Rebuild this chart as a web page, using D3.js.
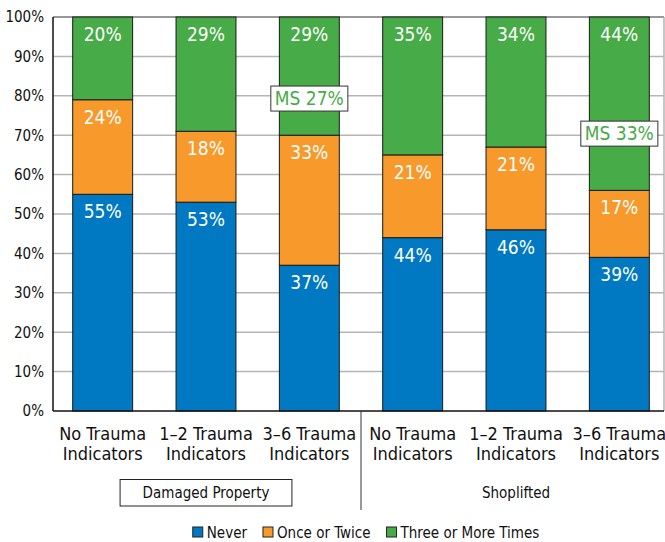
<!DOCTYPE html>
<html>
<head>
<meta charset="utf-8">
<script src="https://cdn.jsdelivr.net/npm/d3@7"></script>
<style>
    body { margin: 0; background: #fff; }
    svg { display: block; font-family: "DejaVu Sans", sans-serif; font-stretch: condensed; }
</style>
</head>
<body>
<div id="bar"></div>
<script>
var categories = ["No Trauma|Indicators", "1\u20132 Trauma|Indicators", "3\u20136 Trauma|Indicators",
                  "No Trauma|Indicators", "1\u20132 Trauma|Indicators", "3\u20136 Trauma|Indicators"]
var groups = ["Damaged Property", "Shoplifted"]
var neverVals = [55, 53, 37, 44, 46, 39]
var onceVals = [24, 18, 33, 21, 21, 17]
var threeVals = [20, 29, 29, 35, 34, 44]
var msNotes = ["", "", "MS 27%", "", "", "MS 33%"]
var seriesNames = ["Never", "Once or Twice", "Three or More Times"]
var yTicks = [0, 10, 20, 30, 40, 50, 60, 70, 80, 90, 100]

function barchart() {
    var width = 665, height = 542
    var plot = {left: 53, right: 664, top: 17, bottom: 411}
    var colors = ["#0079c2", "#f7992b", "#47ab47"]
    var keys = ["never", "once", "three"]

    var svg = d3.select("#bar").append("svg")
        .attr("width", width).attr("height", height)

    var data = categories.map(function (c, i) {
        return {id: i, label: c, never: neverVals[i], once: onceVals[i], three: threeVals[i], ms: msNotes[i]}
    })

    var xScale = d3.scaleBand()
        .domain(data.map(function (d) { return d.id }))
        .range([51, 671])
        .paddingInner(0.42)
        .paddingOuter(0.21)

    var yScale = d3.scaleLinear().domain([0, 100]).range([plot.bottom, plot.top])

    // gridlines
    svg.append("g").selectAll("line")
        .data(yTicks.filter(function (t) { return t > 0 && t < 100 }))
        .enter().append("line")
        .attr("x1", plot.left).attr("x2", plot.right)
        .attr("y1", function (d) { return yScale(d) })
        .attr("y2", function (d) { return yScale(d) })
        .attr("stroke", "#b5b5b5").attr("stroke-width", 1.5)

    // frame
    svg.append("line").attr("x1", plot.left).attr("x2", plot.right)
        .attr("y1", yScale(100)).attr("y2", yScale(100))
        .attr("stroke", "#333").attr("stroke-width", 1.2)
    svg.append("line").attr("x1", plot.right).attr("x2", plot.right)
        .attr("y1", plot.top).attr("y2", plot.bottom)
        .attr("stroke", "#b5b5b5").attr("stroke-width", 1.5)

    // stacked bars, top segment runs up to 100%
    var stack = d3.stack().keys(keys)
    var series = stack(data)
    series[2].forEach(function (s) { s[1] = 100 })

    var layer = svg.append("g").selectAll("g")
        .data(series)
        .enter().append("g")
        .attr("fill", function (d, i) { return colors[i] })

    layer.selectAll("rect")
        .data(function (d) { return d })
        .enter().append("rect")
        .attr("x", function (d) { return xScale(d.data.id) })
        .attr("width", xScale.bandwidth())
        .attr("y", function (d) { return yScale(d[1]) })
        .attr("height", function (d) { return yScale(d[0]) - yScale(d[1]) })
        .attr("stroke", "#1a1a1a").attr("stroke-width", 1)

    layer.each(function (s) {
        var key = s.key
        d3.select(this).selectAll("text")
            .data(s)
            .enter().append("text")
            .attr("x", function (d) { return xScale(d.data.id) + xScale.bandwidth() / 2 })
            .attr("y", function (d) { return yScale(d[1]) + 24 })
            .attr("text-anchor", "middle")
            .attr("fill", "#fff")
            .style("font-size", "19px")
            .text(function (d) { return d.data[key] + "%" })
    })

    // MS notes
    var noteY = {2: 79.3, 5: 70.4}
    var notes = svg.append("g").selectAll("g")
        .data(data.filter(function (d) { return d.ms !== "" }))
        .enter().append("g")
        .attr("transform", function (d) {
            return "translate(" + [xScale(d.id) + xScale.bandwidth() / 2, yScale(noteY[d.id])] + ")"
        })
    notes.append("rect")
        .attr("y", -12.5).attr("height", 25)
        .attr("fill", "#fff").attr("stroke", "#333").attr("stroke-width", 1)
    notes.append("text")
        .attr("text-anchor", "middle").attr("dy", "0.36em")
        .attr("fill", "#47ab47").style("font-size", "19px")
        .text(function (d) { return d.ms })
    notes.each(function () {
        var g = d3.select(this)
        var w = g.select("text").node().getComputedTextLength() + 8
        g.select("rect").attr("x", -w / 2).attr("width", w)
    })

    // y axis
    var yAxis = d3.axisLeft(yScale)
        .tickValues(yTicks)
        .tickFormat(function (d) { return d + "%" })
        .tickSize(0).tickPadding(9)
    var ya = svg.append("g")
        .attr("transform", "translate(" + plot.left + ",0)")
        .call(yAxis)
    ya.attr("font-family", null)
    ya.select(".domain").remove()
    ya.selectAll("text").style("font-size", "15px").attr("fill", "#111")

    svg.append("line").attr("x1", plot.left).attr("x2", plot.left)
        .attr("y1", plot.top).attr("y2", plot.bottom)
        .attr("stroke", "#111").attr("stroke-width", 1.5)
    svg.append("line").attr("x1", plot.left).attr("x2", plot.right)
        .attr("y1", plot.bottom).attr("y2", plot.bottom)
        .attr("stroke", "#111").attr("stroke-width", 1.5)

    // x labels
    var xl = svg.append("g").selectAll("text")
        .data(data)
        .enter().append("text")
        .attr("x", function (d) { return xScale(d.id) + xScale.bandwidth() / 2 })
        .attr("y", 440)
        .attr("text-anchor", "middle")
        .attr("fill", "#111")
        .style("font-size", "18px")
    xl.append("tspan").text(function (d) { return d.label.split("|")[0] })
    xl.append("tspan")
        .attr("x", function (d) { return xScale(d.id) + xScale.bandwidth() / 2 })
        .attr("dy", 20)
        .text(function (d) { return d.label.split("|")[1] })

    // group separator + group labels
    var sepX = (xScale(2) + xScale.bandwidth() + xScale(3)) / 2
    svg.append("line").attr("x1", sepX).attr("x2", sepX)
        .attr("y1", plot.bottom).attr("y2", 510)
        .attr("stroke", "#333").attr("stroke-width", 1)

    groups.forEach(function (g, i) {
        var cx = xScale(i * 3 + 1) + xScale.bandwidth() / 2
        var box = svg.append("rect")
        var t = svg.append("text")
            .attr("x", cx).attr("y", 498)
            .attr("text-anchor", "middle")
            .attr("fill", "#111")
            .style("font-size", "15px")
            .text(g)
        if (i === 0) {
            var w = t.node().getComputedTextLength() + 45
            box.attr("x", cx - w / 2).attr("y", 479.5)
                .attr("width", w).attr("height", 26.5)
                .attr("fill", "#fff").attr("stroke", "#222").attr("stroke-width", 1)
        } else {
            box.remove()
        }
    })

    // legend
    var legend = svg.append("g")
    var xpos = 0
    seriesNames.forEach(function (name, i) {
        var item = legend.append("g").attr("transform", "translate(" + xpos + ",0)")
        item.append("rect").attr("x", 0).attr("y", -5).attr("width", 10).attr("height", 10)
            .attr("fill", colors[i]).attr("stroke", "#222").attr("stroke-width", 1)
        var t = item.append("text").attr("x", 14).attr("y", 5.5)
            .attr("fill", "#111").style("font-size", "15px").text(name)
        xpos += 14 + t.node().getComputedTextLength() + 16
    })
    var total = xpos - 16
    legend.attr("transform", "translate(" + [366 - total / 2, 532] + ")")
}

barchart()
</script>
</body>
</html>
